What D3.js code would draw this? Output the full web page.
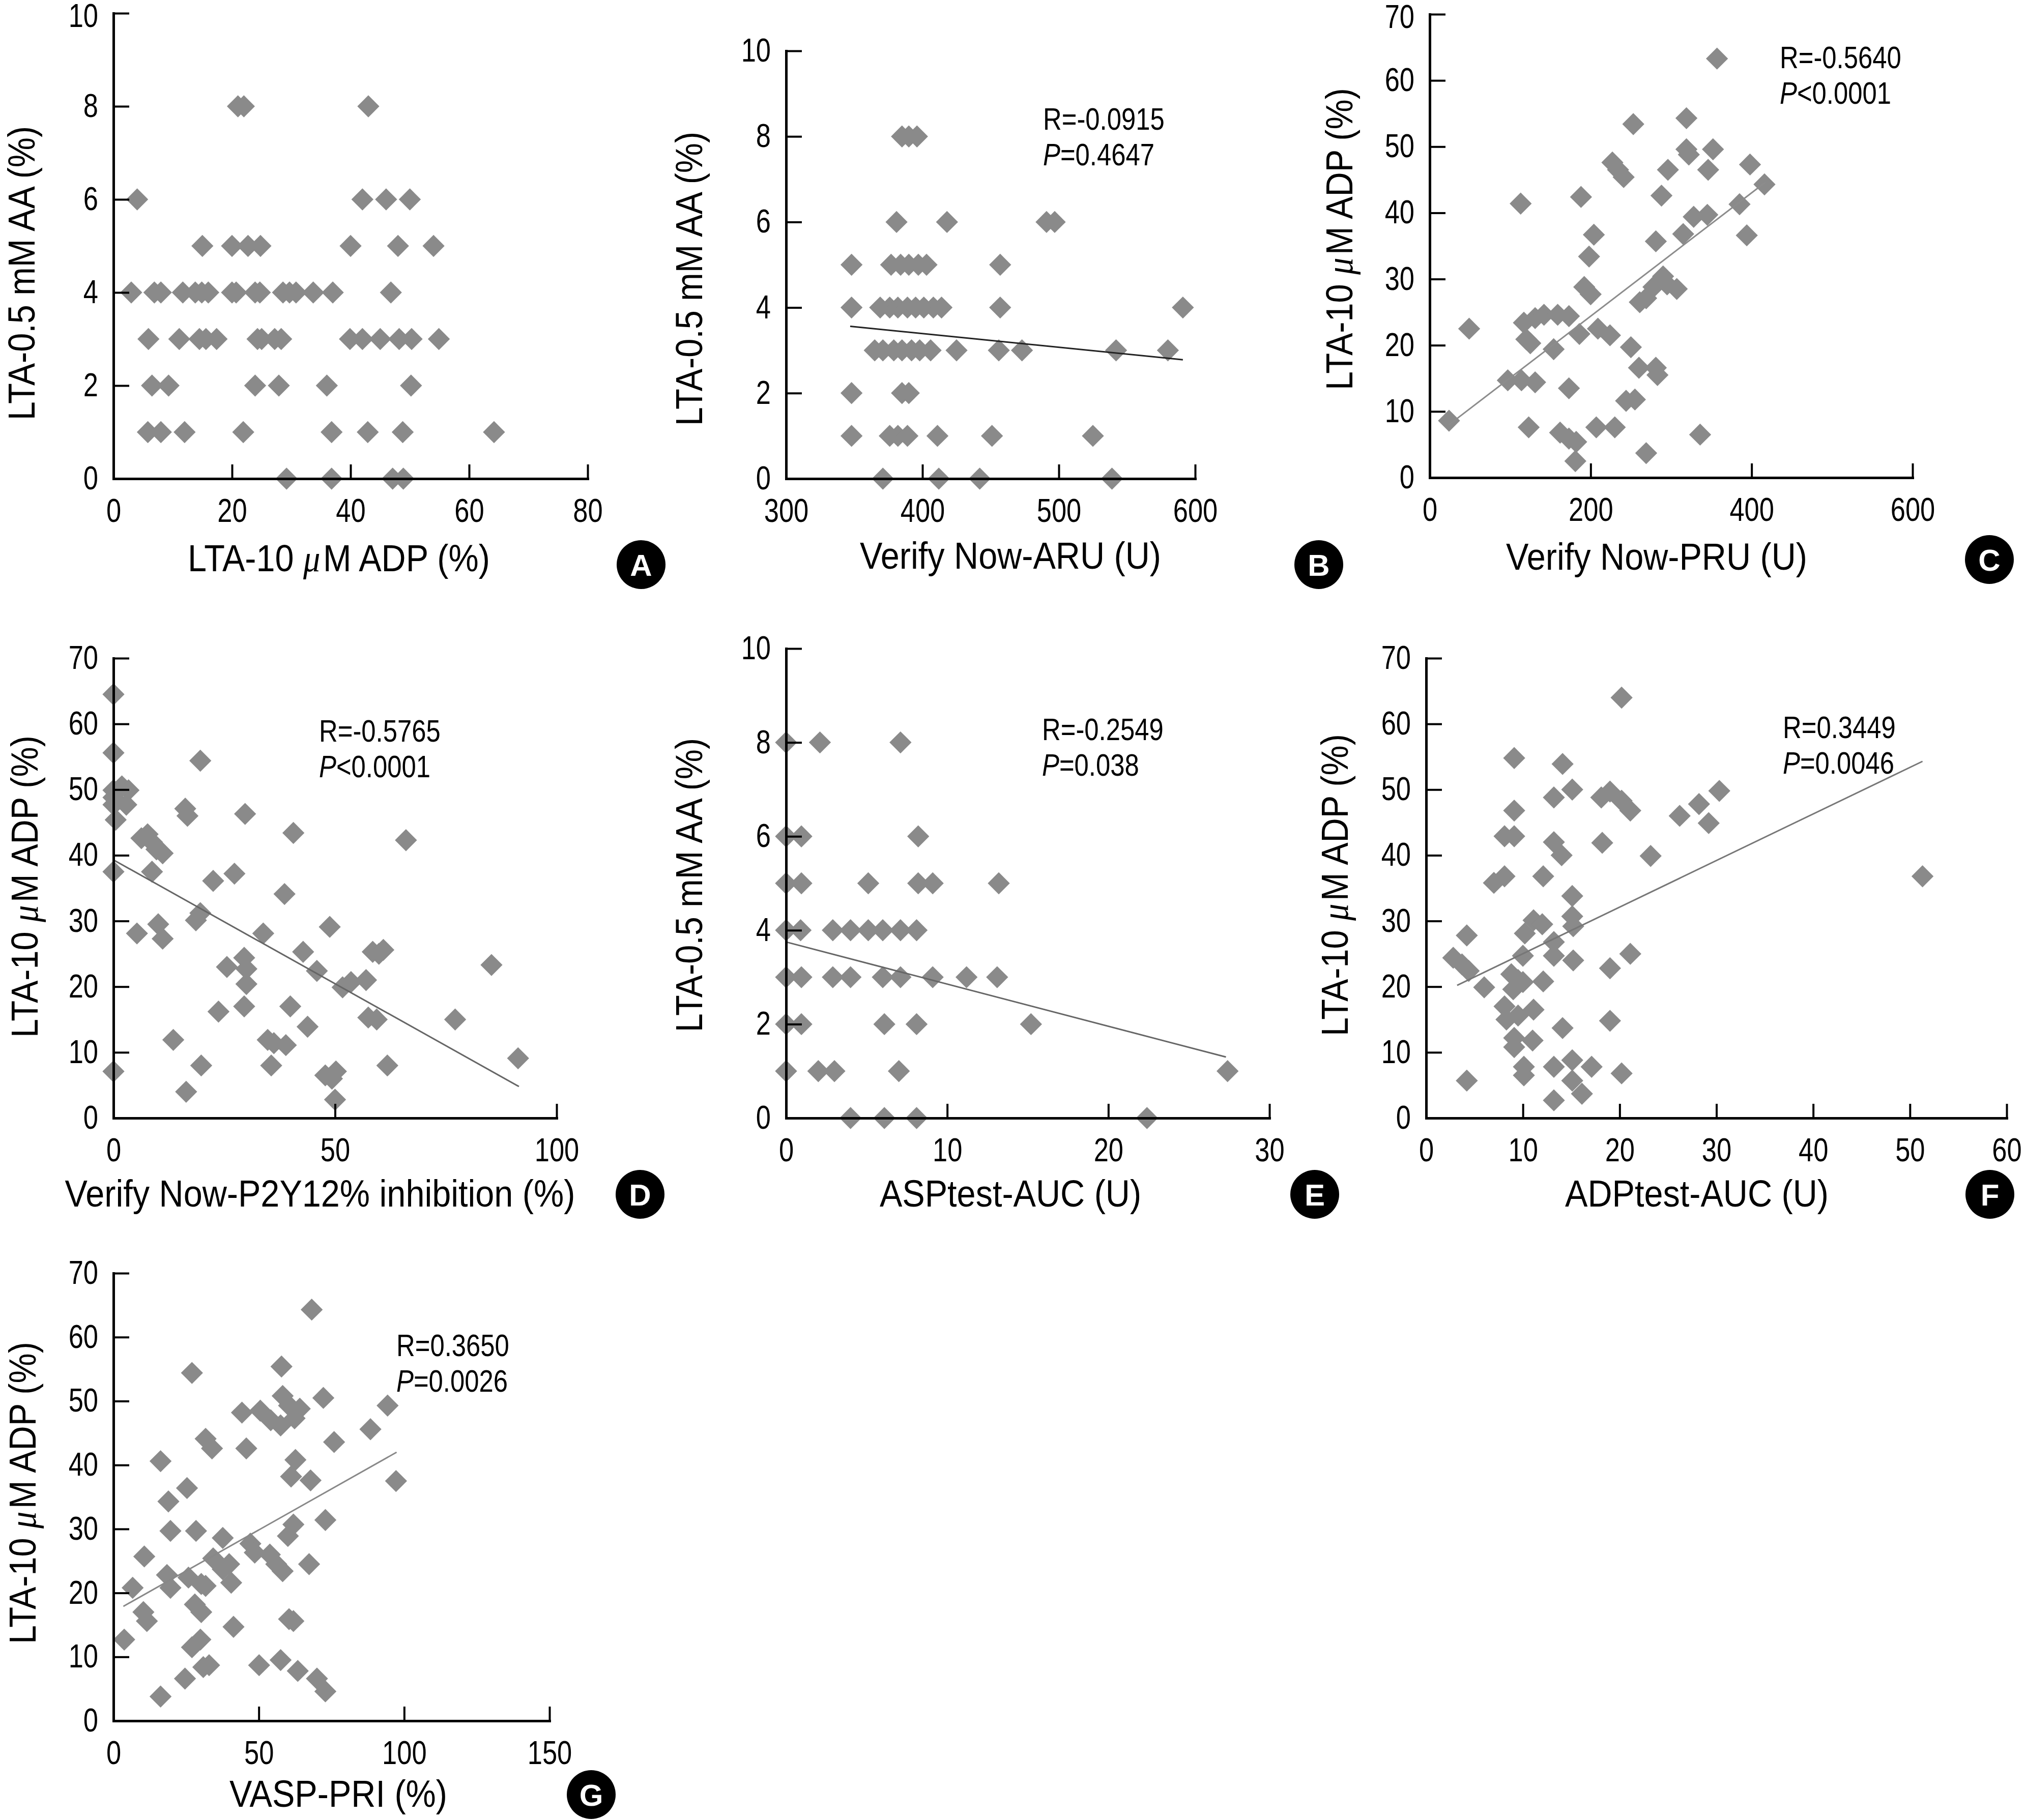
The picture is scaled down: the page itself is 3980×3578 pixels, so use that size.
<!DOCTYPE html>
<html><head><meta charset="utf-8">
<script src="https://cdn.jsdelivr.net/npm/d3@7"></script>
<style>html,body{margin:0;padding:0;background:#fff;} svg{display:block;}</style>
</head><body>
<svg id="chart" width="3980" height="3578"></svg>
<script>
// ---------------- DATA ----------------
// Panel A: x = LTA-10 uM ADP (%), y = LTA-0.5 mM AA (%)
const ptsA = [
 [21,8],[22,8],[43,8],
 [4,6],[42,6],[46,6],[50,6],
 [15,5],[20,5],[22.7,5],[24.8,5],[40,5],[48,5],[54,5],
 [3,4],[6.9,4],[8,4],[11.7,4],[13.8,4],[14.9,4],[16,4],[20,4],[20.7,4],[23.9,4],[24.7,4],[28.6,4],[29.7,4],[30.8,4],[33.7,4],[37,4],[46.8,4],
 [5.9,3],[11.1,3],[14.5,3],[15.6,3],[17.4,3],[24.3,3],[25,3],[27.2,3],[28.3,3],[39.9,3],[42,3],[45,3],[48.2,3],[50.3,3],[54.9,3],
 [6.5,2],[9.3,2],[23.9,2],[27.9,2],[36,2],[50.2,2],
 [5.8,1],[8,1],[12,1],[21.9,1],[36.8,1],[42.9,1],[48.8,1],[64.2,1],
 [29.2,0],[36.8,0],[47.1,0],[48.9,0]
];
// Panel B: x = Verify Now-ARU (U), y = LTA-0.5 mM AA (%)
const ptsB = [
 [385,8],[390,8],[396,8],
 [381,6],[418,6],[491,6],[497,6],
 [348,5],[377,5],[384,5],[390,5],[397,5],[403,5],[457,5],
 [348,4],[369,4],[376,4],[382,4],[389,4],[395,4],[401,4],[408,4],[414,4],[457,4],[591,4],
 [365,3],[371,3],[379,3],[385,3],[392,3],[398,3],[406,3],[425,3],[456,3],[473,3],[542,3],[580,3],
 [348,2],[385,2],[390,2],
 [348,1],[376,1],[382,1],[389,1],[411,1],[451,1],[525,1],
 [371,0],[412,0],[442,0],[539,0]
];
// Panel C: x = Verify Now-PRU (U), y = LTA-10 uM ADP (%)
const ptsC = [
 [357,63.3],[319,54.3],[253,53.4],[352,49.6],[319,49.6],[322,48.8],[227,47.6],[234,46.5],[241,45.4],[296,46.5],
 [346,46.5],[398,47.3],[416,44.3],[113,41.4],[188,42.4],[288,42.6],[385,41.3],[328,39.4],[345,39.7],[315,36.8],
 [204,36.7],[394,36.6],[281,35.7],[198,33.4],[290,30.4],[295,29.2],[307,28.5],[192,28.8],[200,27.7],[278,28.8],
 [269,27.1],[261,26.5],[49,22.5],[117,23.4],[131,24.1],[142,24.6],[159,24.6],[173,24.4],[120,20.9],[125,20.3],
 [154,19.4],[186,21.7],[209,22.5],[224,21.5],[250,19.7],[260,16.6],[281,16.6],[283,15.5],[97,14.7],[114,14.7],
 [131,14.4],[173,13.5],[244,11.6],[255,11.8],[24,8.6],[123,7.6],[207,7.6],[230,7.6],[162,6.8],[173,5.9],
 [182,5.4],[336,6.5],[269,3.7],[181,2.5]
];
// Panel D: x = Verify Now-P2Y12% inhibition (%), y = LTA-10 uM ADP (%)
const ptsD = [
 [0,64.5],[0,55.6],[0,49.9],[1.9,50.5],[3.4,49.9],[0,48.8],[0,47.7],[2.9,47.7],[0.5,45.4],[0,37.5],
 [0,7.1],[6.3,42.6],[7.7,43.2],[8.7,42.0],[9.7,40.9],[11.1,40.3],[8.7,37.5],[5.3,28.1],[10.1,29.5],[11.1,27.3],
 [13.5,11.9],[16.2,47.1],[16.7,46.0],[19.6,54.4],[18.6,30.1],[19.6,31.2],[22.5,36.1],[19.8,8.0],[16.4,4.0],[27.3,37.2],
 [29.7,46.3],[23.7,16.2],[25.6,23.0],[29.5,24.4],[30.0,22.7],[30.0,20.4],[29.5,17.0],[33.8,28.1],[34.8,11.9],[36.2,11.4],
 [35.6,8.0],[38.6,34.1],[40.6,43.4],[39.9,17.0],[38.9,11.1],[42.8,25.3],[43.8,13.9],[45.9,22.4],[48.8,29.1],[47.8,6.5],
 [49.3,6.0],[50.2,7.1],[50.0,2.8],[51.7,19.9],[53.6,20.7],[57.0,21.0],[57.5,15.3],[59.4,15.0],[58.5,25.3],[59.9,25.0],
 [60.9,25.6],[61.8,8.0],[66.0,42.3],[77.1,15.0],[85.3,23.3],[91.3,9.1]
];
// Panel E: x = ASPtest-AUC (U), y = LTA-0.5 mM AA (%)
const ptsE = [
 [0,8],[2.1,8],[7.1,8],
 [0,6],[0.95,6],[8.2,6],
 [0,5],[0.95,5],[5.1,5],[8.2,5],[9.1,5],[13.2,5],
 [0,4],[0.9,4],[2.9,4],[4.0,4],[5.1,4],[6.0,4],[7.1,4],[8.1,4],
 [0,3],[0.95,3],[2.9,3],[4.0,3],[6.0,3],[7.1,3],[9.1,3],[11.2,3],[13.1,3],
 [0,2],[0.95,2],[6.1,2],[8.1,2],[15.2,2],
 [0,1],[2.0,1],[3.0,1],[7.0,1],[27.4,1],
 [4.0,0],[6.1,0],[8.1,0],[22.4,0]
];
// Panel F: x = ADPtest-AUC (U), y = LTA-10 uM ADP (%)
const ptsF = [
 [20.2,64.0],[9.1,54.8],[14.1,53.9],[15.1,50.0],[13.2,48.8],[18.1,48.8],[19.0,49.7],[20.2,48.3],[21.1,46.8],[9.1,46.8],
 [8.1,42.9],[9.1,42.9],[13.2,42.0],[14.0,40.0],[18.2,41.9],[23.2,39.9],[26.2,46.0],[28.2,47.8],[29.2,44.9],[30.3,49.8],
 [7.0,35.8],[8.1,36.8],[12.1,36.8],[15.1,33.8],[15.1,30.7],[15.2,29.2],[10.2,28.1],[11.1,30.1],[12.0,29.5],[4.2,27.8],
 [13.2,26.8],[13.2,24.7],[10.0,24.7],[21.1,25.0],[15.2,24.0],[19.0,22.8],[2.8,24.4],[3.7,23.4],[4.4,22.4],[6.0,19.9],
 [8.8,21.9],[9.5,21.0],[10.0,20.7],[9.0,19.6],[12.1,20.8],[8.1,17.0],[8.3,15.0],[9.5,15.6],[11.1,16.5],[9.1,12.2],
 [9.1,10.8],[11.0,11.8],[14.1,13.7],[19.0,14.8],[15.1,8.8],[17.1,7.8],[13.2,7.8],[10.1,7.8],[10.1,6.5],[20.2,6.8],
 [4.2,5.7],[15.1,5.7],[16.1,3.7],[13.2,2.7],[51.3,36.8]
];
// Panel G: x = VASP-PRI (%), y = LTA-10 uM ADP (%)
const ptsG = [
 [68.2,64.3],[27.0,54.4],[57.8,55.4],[44.2,48.2],[50.5,48.5],[54.1,47.0],[57.5,46.2],[58.2,50.8],[60.4,49.3],[64.1,48.8],
 [62.3,47.3],[72.2,50.5],[94.3,49.3],[88.4,45.6],[75.9,43.6],[31.7,44.1],[33.9,42.6],[45.7,42.6],[16.2,40.6],[62.6,40.8],
 [61.1,38.2],[67.8,37.6],[97.2,37.5],[25.3,36.4],[18.9,34.3],[72.9,31.4],[19.6,29.7],[28.4,29.7],[61.9,30.7],[60.0,28.9],
 [37.6,28.6],[47.1,27.7],[48.6,26.3],[53.8,26.0],[56.0,24.5],[58.2,23.4],[10.6,25.7],[34.3,25.4],[37.6,23.7],[39.8,24.5],
 [25.8,22.4],[18.4,22.8],[19.6,20.8],[30.2,21.4],[31.7,21.1],[40.5,21.6],[67.3,24.5],[6.6,20.8],[10.3,17.0],[11.5,15.6],
 [28.0,18.2],[30.2,17.0],[3.7,12.7],[27.0,11.5],[29.9,12.7],[41.3,14.7],[60.4,15.9],[61.9,15.6],[30.9,8.4],[32.9,8.7],
 [24.6,6.6],[50.1,8.7],[57.5,9.5],[63.4,7.8],[70.0,6.6],[72.9,4.6],[16.2,3.8]
];
// Regression line end points [x, y]
const trendB = [[347,3.56],[591,2.78]];
const trendC = [[24,8.0],[417,44.6]];
const trendD = [[0,39.3],[91.5,4.8]];
const trendE = [[0,3.75],[27.3,1.3]];
const trendF = [[3.2,20.2],[51.3,54.3]];
const trendG = [[3.4,17.9],[97.4,42.0]];
// Statistics labels
const statR = {B:"R=-0.0915", C:"R=-0.5640", D:"R=-0.5765", E:"R=-0.2549", F:"R=0.3449", G:"R=0.3650"};
const statP = {B:"=0.4647", C:"<0.0001", D:"<0.0001", E:"=0.038", F:"=0.0046", G:"=0.0026"};
// Tick values
const ticksAA = [0,2,4,6,8,10];
const ticksADP = [0,10,20,30,40,50,60,70];
const ticksXA = [0,20,40,60,80];
const ticksXB = [300,400,500,600];
const ticksXC = [0,200,400,600];
const ticksXD = [0,50,100];
const ticksXE = [0,10,20,30];
const ticksXF = [0,10,20,30,40,50,60];
const ticksXG = [0,50,100,150];
// Axis titles
const titleAA = [["LTA-0.5 mM AA (%)"]];
const titleADP = [["LTA-10 "],["μ","mu"],["M ADP (%)","gap"]];
const titleXA = titleADP;
const titleXB = [["Verify Now-ARU (U)"]];
const titleXC = [["Verify Now-PRU (U)"]];
const titleXD = [["Verify Now-P2Y12% inhibition (%)"]];
const titleXE = [["ASPtest-AUC (U)"]];
const titleXF = [["ADPtest-AUC (U)"]];
const titleXG = [["VASP-PRI (%)"]];

// ---------------- DRAWING ----------------
const svg = d3.select("#chart");
svg.append("rect").attr("width",3980).attr("height",3578).attr("fill","#fff");

function measure(fam){
  const t = svg.append("text").style("font-family",fam).style("font-size","100px").text("LTA-0.5 mM AA (%)");
  const w = t.node().getComputedTextLength(); t.remove(); return w;
}
const hasNarrow = measure("'Liberation Sans Narrow'") / measure("'Liberation Sans'") < 0.9;
const FAM = hasNarrow ? "'Liberation Sans Narrow', 'Arial Narrow', sans-serif" : "'Liberation Sans', Arial, sans-serif";
const SX = hasNarrow ? 1 : 0.82;
const TFAM = "'Liberation Sans', Arial, sans-serif";
const TSX = 0.9;

const TICK = 28, PADX = 40, PADY = 30;
const TICKFS = 64, TITLEFS = 74, STATFS = 62;
const DIAMOND = 940;
const PTCOL = "#8a8a8a";

function addText(parent, x, y, parts, size, anchor, rot, fam, sx){
  const t = parent.append("text")
    .attr("transform", `translate(${x},${y}) rotate(${rot||0}) scale(${sx},1)`)
    .attr("text-anchor", anchor || "start")
    .style("font-family", fam).style("font-size", size + "px").attr("fill", "#000");
  parts.forEach(p => {
    const s = t.append("tspan").text(p[0]);
    if (p[1] === "it") s.style("font-style", "italic");
    if (p[1] === "mu") s.style("font-family", "'Liberation Serif', 'DejaVu Serif', serif").style("font-style", "italic");
    if (p[1] === "gap") s.attr("dx", 6);
  });
  return t;
}

const panels = [
  {id:"A", pts:ptsA, xDom:[0,80], yDom:[0,10], xT:ticksXA, yT:ticksAA, px:[223,1155], py:[941,26],
   xTitle:titleXA, xtx:666, xty:1123, yTitle:titleAA, ytx:68, yty:537, badge:[1260,1110], topNudge:6},
  {id:"B", pts:ptsB, xDom:[300,600], yDom:[0,10], xT:ticksXB, yT:ticksAA, px:[1545,2349], py:[941,100],
   xTitle:titleXB, xtx:1986, xty:1118, yTitle:titleAA, ytx:1380, yty:548, badge:[2592,1110],
   trend:trendB, tcol:"#222", stat:[2050,255]},
  {id:"C", pts:ptsC, xDom:[0,600], yDom:[0,70], xT:ticksXC, yT:ticksADP, px:[2810,3759], py:[939,28],
   xTitle:titleXC, xtx:3256, xty:1120, yTitle:titleADP, ytx:2658, yty:470, badge:[3910,1100],
   trend:trendC, tcol:"#8c8c8c", stat:[3498,134], topNudge:6},
  {id:"D", pts:ptsD, xDom:[0,100], yDom:[0,70], xT:ticksXD, yT:ticksADP, px:[223,1094], py:[2198,1294],
   xTitle:titleXD, xtx:629, xty:2372, yTitle:titleADP, ytx:74, yty:1743, badge:[1258,2348],
   trend:trendD, tcol:"#666", stat:[627,1458]},
  {id:"E", pts:ptsE, xDom:[0,30], yDom:[0,10], xT:ticksXE, yT:ticksAA, px:[1545,2495], py:[2198,1275],
   xTitle:titleXE, xtx:1986, xty:2372, yTitle:titleAA, ytx:1380, yty:1740, badge:[2584,2348],
   trend:trendE, tcol:"#666", stat:[2048,1455]},
  {id:"F", pts:ptsF, xDom:[0,60], yDom:[0,70], xT:ticksXF, yT:ticksADP, px:[2803,3944], py:[2198,1294],
   xTitle:titleXF, xtx:3335, xty:2372, yTitle:titleADP, ytx:2649, yty:1740, badge:[3911,2348],
   trend:trendF, tcol:"#777", stat:[3504,1451]},
  {id:"G", pts:ptsG, xDom:[0,150], yDom:[0,70], xT:ticksXG, yT:ticksADP, px:[223,1080], py:[3383,2503],
   xTitle:titleXG, xtx:665, xty:3552, yTitle:titleADP, ytx:70, yty:2935, badge:[1162,3528],
   trend:trendG, tcol:"#888", stat:[779,2666]}
];

const sym = d3.symbol().type(d3.symbolSquare).size(DIAMOND);

panels.forEach(c => {
  const g = svg.append("g").attr("class", "panel-" + c.id);
  const x = d3.scaleLinear().domain(c.xDom).range(c.px);
  const y = d3.scaleLinear().domain(c.yDom).range(c.py);

  // points
  g.append("g").selectAll("path").data(c.pts).join("path")
    .attr("d", sym)
    .attr("transform", d => `translate(${x(d[0])},${y(d[1])}) rotate(45)`)
    .attr("fill", PTCOL);

  // regression line
  if (c.trend) {
    g.append("line")
      .attr("x1", x(c.trend[0][0])).attr("y1", y(c.trend[0][1]))
      .attr("x2", x(c.trend[1][0])).attr("y2", y(c.trend[1][1]))
      .attr("stroke", c.tcol).attr("stroke-width", 3);
  }

  // axes
  const xa = d3.axisBottom(x).tickValues(c.xT).tickSizeInner(-TICK).tickSizeOuter(0).tickPadding(PADX).tickFormat(d3.format("d"));
  const ya = d3.axisLeft(y).tickValues(c.yT).tickSizeInner(-TICK - 3).tickSizeOuter(0).tickPadding(PADY).tickFormat(d3.format("d"));
  const gx = g.append("g").attr("transform", `translate(0,${c.py[0]})`).call(xa);
  const gy = g.append("g").attr("transform", `translate(${c.px[0]},0)`).call(ya);
  [gx, gy].forEach(ax => {
    ax.select(".domain").attr("stroke", "#000").attr("stroke-width", 5).attr("stroke-linecap", "square");
    ax.selectAll(".tick line").attr("stroke", "#000").attr("stroke-width", 4);
    ax.selectAll(".tick text").style("font-family", FAM).style("font-size", TICKFS + "px").attr("fill", "#000");
  });
  gx.selectAll(".tick text").attr("transform", `scale(${SX},1)`);
  const maxY = c.yDom[1];
  gy.selectAll(".tick text").attr("x", -PADY / SX)
    .attr("transform", d => `translate(0,${(d === maxY && c.topNudge) ? c.topNudge : 0}) scale(${SX},1)`);

  // titles
  addText(g, c.xtx, c.xty, c.xTitle, TITLEFS, "middle", 0, TFAM, TSX);
  addText(g, c.ytx, c.yty, c.yTitle, TITLEFS, "middle", -90, TFAM, TSX);

  // statistics
  if (c.stat) {
    addText(g, c.stat[0], c.stat[1], [[statR[c.id]]], STATFS, "start", 0, FAM, SX);
    addText(g, c.stat[0], c.stat[1] + 70, [["P","it"],[statP[c.id]]], STATFS, "start", 0, FAM, SX);
  }

  // panel badge
  g.append("circle").attr("cx", c.badge[0]).attr("cy", c.badge[1]).attr("r", 48).attr("fill", "#000");
  g.append("text").attr("x", c.badge[0]).attr("y", c.badge[1]).attr("dy", "0.36em")
    .attr("text-anchor", "middle").style("font-family", "'Liberation Sans', Arial, sans-serif")
    .style("font-weight", "bold").style("font-size", "60px").attr("fill", "#fff").text(c.id);
});
</script>
</body></html>
